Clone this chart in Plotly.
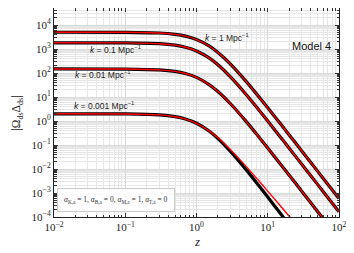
import plotly.graph_objects as go

z = [0.01, 0.1, 0.3, 0.5, 0.7, 1, 1.5, 2, 3, 5, 7, 10, 15, 20, 30, 50, 70, 100]

k1 = [5.01e3, 4.97e3, 4.65e3, 4.10e3, 3.45e3, 2.49e3, 1.34e3, 7.19e2, 2.35e2, 43.8, 13.2, 3.55,
      0.78, 0.264, 0.0568, 0.00817, 0.00228, 5.87e-4]
k01 = [1.82e3, 1.80e3, 1.67e3, 1.45e3, 1.19e3, 832, 426, 220, 69.2, 12.5, 3.73, 1.00,
       0.218, 0.0736, 0.0158, 0.00229, 6.37e-4, 1.64e-4]
k001 = [148, 146.5, 135, 117, 95.2, 65.7, 33.1, 16.9, 5.25, 0.942, 0.280, 0.0748,
        0.0163, 0.00552, 0.00119, 1.71e-4, 4.76e-5, 1.23e-5]
z4 = [0.01, 0.1, 0.3, 0.5, 0.7, 1, 1.5, 2, 3, 5, 7, 10, 15, 20, 30]
k0001_black = [2.00, 1.97, 1.80, 1.52, 1.21, 0.806, 0.383, 0.187, 0.0547, 0.00919, 0.00263,
               6.76e-4, 1.42e-4, 4.64e-5, 9.6e-6]
k0001_red = [2.00, 1.97, 1.80, 1.51, 1.20, 0.802, 0.391, 0.199, 0.0638, 0.0126, 0.00407,
             0.00120, 2.94e-4, 1.08e-4, 2.62e-5]

labels = ["<i>k</i> = 1 Mpc<sup>−1</sup>", "<i>k</i> = 0.1 Mpc<sup>−1</sup>",
          "<i>k</i> = 0.01 Mpc<sup>−1</sup>", "<i>k</i> = 0.001 Mpc<sup>−1</sup>"]
label_x = [0.09, -1.523, -1.733, -1.748]   # log10 z of left edge
label_y = [3.50, 2.98, 1.93, 0.66]         # log10 value of centre

x_ticks = [0.01, 0.1, 1, 10, 100]
x_text = ["10<sup>−2</sup>", "10<sup>−1</sup>", "10<sup>0</sup>", "10<sup>1</sup>", "10<sup>2</sup>"]
y_ticks = [1e-4, 1e-3, 1e-2, 1e-1, 1, 10, 1e2, 1e3, 1e4]
y_text = ["10<sup>−4</sup>", "10<sup>−3</sup>", "10<sup>−2</sup>", "10<sup>−1</sup>", "10<sup>0</sup>",
          "10<sup>1</sup>", "10<sup>2</sup>", "10<sup>3</sup>", "10<sup>4</sup>"]

def minor_vals(lo, hi):
    out = []
    for e in range(lo, hi + 1):
        for m in range(2, 10):
            out.append(m * 10 ** e)
    return out

fig = go.Figure()
black_sets = [(z, k1), (z, k01), (z, k001), (z4, k0001_black)]
red_sets = [(z, k1), (z, k01), (z, k001), (z4, k0001_red)]
for xs, ys in black_sets:
    fig.add_trace(go.Scatter(x=xs, y=ys, mode="lines", line=dict(color="black", width=3.2, shape="spline", smoothing=0.6),
                             showlegend=False, hoverinfo="skip"))
for xs, ys in red_sets:
    fig.add_trace(go.Scatter(x=xs, y=ys, mode="lines", line=dict(color="#ff0000", width=1.4, shape="spline", smoothing=0.6),
                             showlegend=False, hoverinfo="skip"))

serif = "Liberation Serif, DejaVu Serif, serif"
sans = "Liberation Sans, Arial, sans-serif"

axis_common = dict(
    type="log", showline=True, linecolor="#222", linewidth=1, mirror="ticks",
    ticks="inside", ticklen=4, tickcolor="#333", showgrid=True, gridcolor="#d8d8d8", gridwidth=0.8,
    zeroline=False, tickfont=dict(family=serif, size=11, color="#222"),
)
fig.update_xaxes(**axis_common, range=[-2, 2], tickmode="array", tickvals=x_ticks, ticktext=x_text,
                 ticklabelstandoff=0,
                 minor=dict(tickmode="array", tickvals=minor_vals(-2, 1), ticks="inside", ticklen=2.5,
                            tickcolor="#333", showgrid=True, gridcolor="#e6e6e6", gridwidth=0.6))
fig.update_yaxes(**axis_common, range=[-4, 4.71], tickmode="array", tickvals=y_ticks, ticktext=y_text,
                 minor=dict(tickmode="array", tickvals=minor_vals(-4, 4), ticks="inside", ticklen=2.5,
                            tickcolor="#333", showgrid=True, gridcolor="#e6e6e6", gridwidth=0.6))

# axis titles
fig.add_annotation(x=0.5, y=-0.115, xref="paper", yref="paper", text="<i>z</i>", showarrow=False,
                   yanchor="middle", font=dict(family=serif, size=13, color="#222"))
fig.add_annotation(x=-0.130, y=0.5, xref="paper", yref="paper", text="|Ω<sub>ds</sub>Δ<sub>ds</sub>|",
                   showarrow=False, textangle=-90, xanchor="center", yanchor="middle",
                   font=dict(family=serif, size=11.5, color="#222"))

for t, lx, ly in zip(labels, label_x, label_y):
    fig.add_annotation(x=lx, y=ly, xref="x", yref="y", text=t, showarrow=False, xanchor="left", yanchor="middle",
                       font=dict(family=sans, size=8.5, color="#222"))

fig.add_annotation(x=1.618, y=3.125, xref="x", yref="y", text="Model 4", showarrow=False,
                   font=dict(family=sans, size=11, color="#111"))

fig.add_annotation(x=0.010, y=0.022, xref="paper", yref="paper", xanchor="left", yanchor="bottom",
                   text="<i>α</i><sub>K,a</sub> = 1, <i>α</i><sub>B,a</sub> = 0, <i>α</i><sub>M,a</sub> = 1, <i>α</i><sub>T,a</sub> = 0",
                   showarrow=False, font=dict(family=serif, size=7.5, color="#333"),
                   bordercolor="#cccccc", borderwidth=1, borderpad=6, bgcolor="rgba(255,255,255,0.9)")

# the page body adds an 8px offset, so the figure is sized to fit inside the window
fig.update_layout(width=346, height=245, margin=dict(l=46, r=15, t=0, b=36),
                  paper_bgcolor="white", plot_bgcolor="white")

fig.write_html("out.html")
